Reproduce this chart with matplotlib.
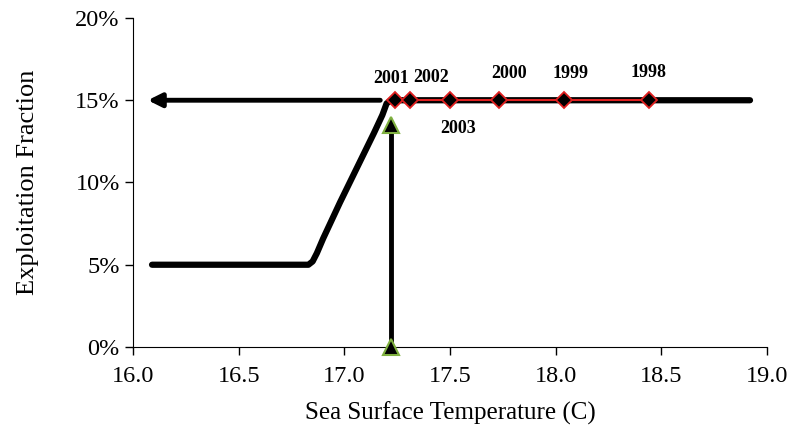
import numpy as np
import matplotlib.pyplot as plt
from matplotlib.ticker import FuncFormatter

# curva de exploracao (SST, fracao)
sst_curva = [16.09, 16.83, 16.85, 16.87, 16.90, 16.98, 17.06, 17.14, 17.18, 17.20, 17.22, 18.92]
frac_curva = [0.05, 0.05, 0.052, 0.057, 0.066, 0.088, 0.109, 0.130, 0.141, 0.148, 0.15, 0.15]

# seta horizontal
seta_x = [17.17, 16.07]
seta_y = [0.15, 0.15]

# seta vertical
vert_x = [17.22, 17.22]
vert_y = [0.0, 0.135]

# anos observados
anos = ['2001', '2002', '2003', '2000', '1999', '1998']
sst_anos = [17.24, 17.31, 17.50, 17.73, 18.04, 18.44]
frac_anos = [0.15, 0.15, 0.15, 0.15, 0.15, 0.15]
label_y = [0.163, 0.164, 0.133, 0.166, 0.166, 0.167]
label_dx = [-0.02, 0.10, 0.04, 0.05, 0.03, 0.0]

plt.rcParams['font.family'] = ['Liberation Serif', 'DejaVu Serif']

fig = plt.figure(figsize=(7.89, 4.40), dpi=100)
ax = fig.add_axes([0.1686, 0.2114, 0.8034, 0.7477])

ax.plot(sst_curva, frac_curva, color='black', lw=4.5, solid_capstyle='round',
        solid_joinstyle='round', zorder=2)

ax.annotate('', xy=(seta_x[1], seta_y[1]), xytext=(seta_x[0], seta_y[0]),
            arrowprops=dict(arrowstyle='-|>', color='black', lw=3.5,
                            mutation_scale=20, shrinkA=0, shrinkB=0), zorder=2)

ax.plot(vert_x, vert_y, color='black', lw=3.5, zorder=2)
ax.plot(vert_x, vert_y, ls='none', marker='^', ms=12, mfc='black',
        mec='#7fb040', mew=1.5, zorder=4, clip_on=False)

ax.plot(sst_anos, frac_anos, color='#e02020', lw=1.5, marker='D', ms=8,
        mfc='black', mec='#e02020', mew=1.3, zorder=5)

for i in range(len(anos)):
    ax.text(sst_anos[i] + label_dx[i], label_y[i], anos[i], ha='center',
            va='center', fontsize=13, fontweight='bold')

ax.set_xlim(16.0, 19.0)
ax.set_ylim(0, 0.20)
ax.set_xticks(np.arange(16.0, 19.01, 0.5))
ax.set_yticks(np.arange(0, 0.201, 0.05))
ax.xaxis.set_major_formatter(FuncFormatter(lambda v, p: '%.1f' % v))
ax.yaxis.set_major_formatter(FuncFormatter(lambda v, p: '%d%%' % round(v * 100)))
ax.tick_params(labelsize=17.5, direction='out', length=6, width=1)
ax.tick_params(axis='x', pad=8)
ax.spines['top'].set_visible(False)
ax.spines['right'].set_visible(False)

ax.set_xlabel('Sea Surface Temperature (C)', fontsize=18, labelpad=10)
ax.set_ylabel('Exploitation Fraction', fontsize=19, labelpad=26)

plt.savefig('out.png', dpi=100)
